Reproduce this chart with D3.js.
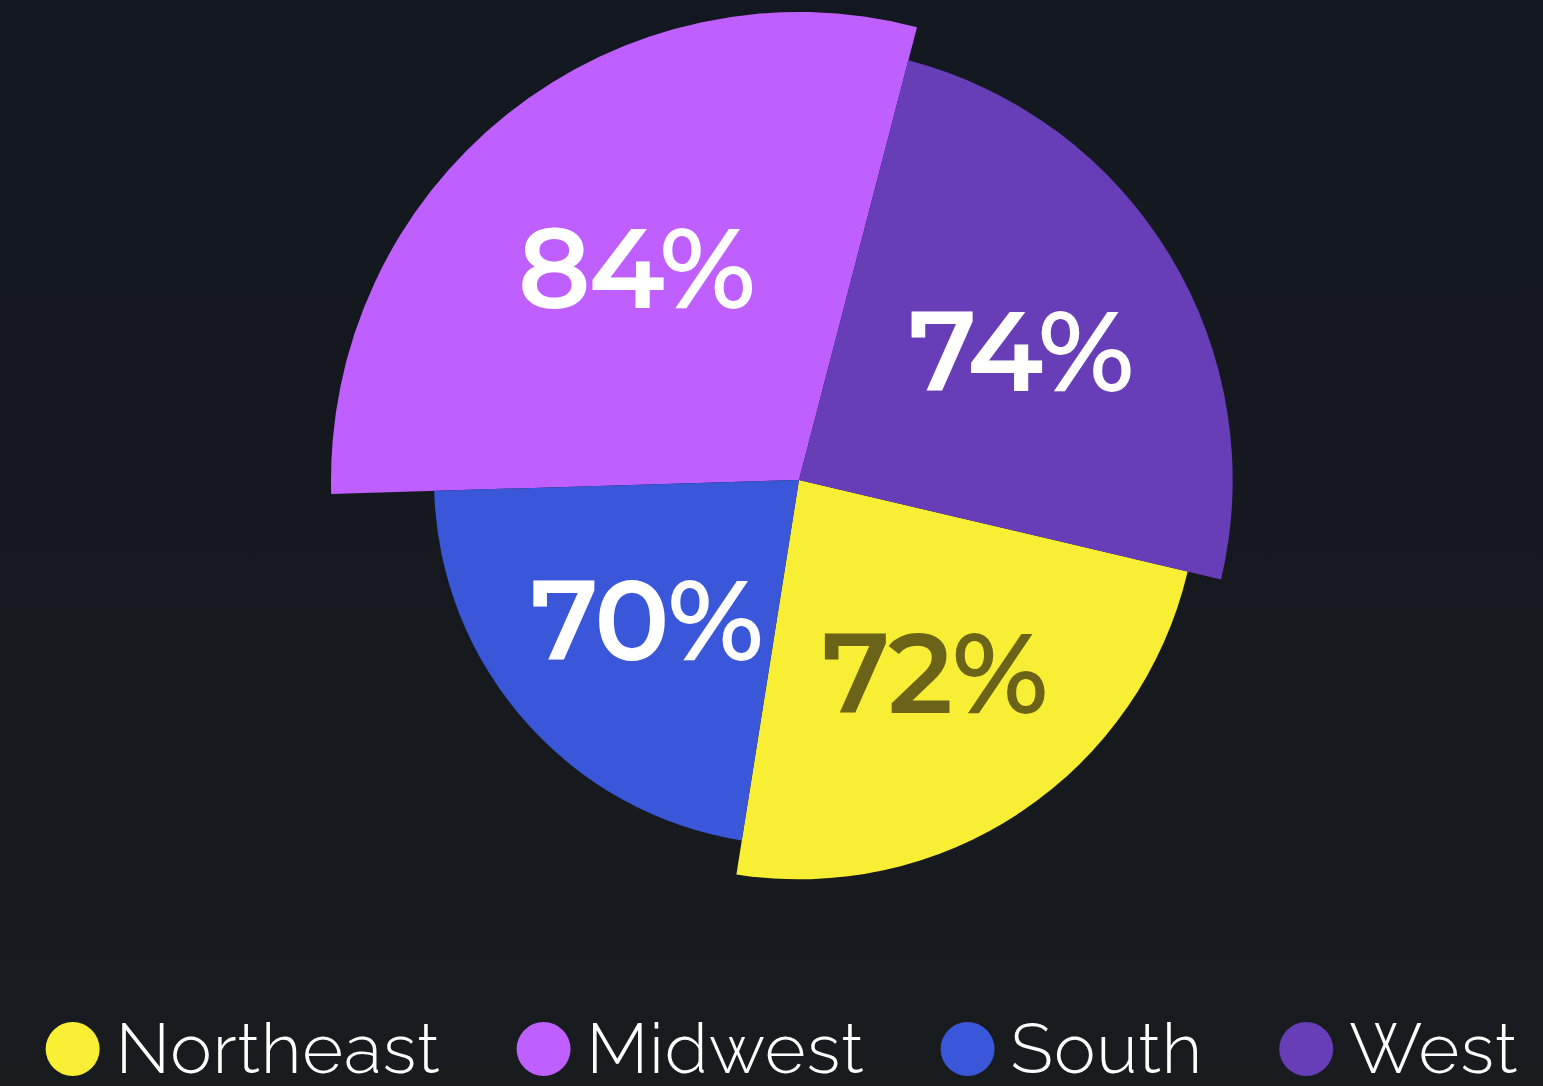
<!DOCTYPE html>
<html>
<head>
<meta charset="utf-8">
<script src="https://cdn.jsdelivr.net/npm/d3@7"></script>
<style>
  html, body { margin: 0; padding: 0; background: #151920; }
  svg { display: block; }
</style>
</head>
<body>
<div id="chart"></div>
<script>
// chart data
var regions = ["Northeast", "Midwest", "South", "West"];
var percents = [72, 84, 70, 74];
// share of the full circle each slice takes
var shares = [23.8, 29.5, 22.0, 24.6];
var colors = ["#f8ef35", "#bf5fff", "#3a57da", "#673db8"];
var labelColors = ["#6b6418", "#ffffff", "#ffffff", "#ffffff"];

var width = 1543, height = 1086;
var cx = 799, cy = 480;

var data = regions.map(function(d, i) {
  return {region: d, pct: percents[i], share: shares[i], color: colors[i], labelColor: labelColors[i]};
});

// rank by percent -> outer radius
var ranked = data.slice().sort(function(a, b) { return b.pct - a.pct; });
ranked.forEach(function(d, i) { d.rank = i; });
var radius = d3.scaleLinear().domain([0, ranked.length - 1]).range([468, 365]);

var svg = d3.select("#chart").append("svg")
  .attr("width", width)
  .attr("height", height);

var defs = svg.append("defs");
var grad = defs.append("linearGradient")
  .attr("id", "bg")
  .attr("x1", 0).attr("y1", 0).attr("x2", 0).attr("y2", 1);
grad.append("stop").attr("offset", "0%").attr("stop-color", "#13171f");
grad.append("stop").attr("offset", "100%").attr("stop-color", "#181c1f");

svg.append("rect")
  .attr("width", width)
  .attr("height", height)
  .attr("fill", "url(#bg)");

var pie = d3.pie()
  .value(function(d) { return d.share; })
  .sort(function(a, b) { return b.pct - a.pct; })
  .startAngle(-91.7 * Math.PI / 180)
  .endAngle((360 - 91.7) * Math.PI / 180);

var arcs = pie(data);

var arc = d3.arc()
  .innerRadius(0)
  .outerRadius(function(d) { return radius(d.data.rank); });

var g = svg.append("g")
  .attr("transform", "translate(" + cx + "," + cy + ")");

g.selectAll(".slice")
  .data(arcs).enter()
  .append("path")
    .attr("class", "slice")
    .attr("d", arc)
    .attr("fill", function(d) { return d.data.color; });

g.selectAll(".pct")
  .data(arcs).enter()
  .append("text")
    .attr("class", "pct")
    .attr("transform", function(d) {
      var a = (d.startAngle + d.endAngle) / 2;
      var r = radius(d.data.rank) * 0.58;
      return "translate(" + (r * Math.sin(a) + 6) + "," + (-r * Math.cos(a)) + ")";
    })
    .attr("dy", "0.36em")
    .style("text-anchor", "middle")
    .style("font-family", "Montserrat, Lato, 'Open Sans', sans-serif")
    .style("font-weight", 600)
    .style("font-size", "112px")
    .style("letter-spacing", "-2px")
    .style("fill", function(d) { return d.data.labelColor; })
    .text(function(d) { return d.data.pct + "%"; });

// legend
var legend = svg.append("g").attr("class", "legend");
var legendFont = 70, dotR = 27, dotGap = 16, itemGap = 76;

var items = legend.selectAll(".item")
  .data(data).enter()
  .append("g")
    .attr("class", "item");

items.append("circle")
  .attr("r", dotR)
  .attr("cx", dotR)
  .attr("cy", 0)
  .attr("fill", function(d) { return d.color; });

items.append("text")
  .attr("x", dotR * 2 + dotGap)
  .attr("y", 0)
  .attr("dy", "0.34em")
  .style("font-family", "Raleway, Lato, 'Noto Sans', sans-serif")
  .style("font-weight", 300)
  .style("font-size", legendFont + "px")
  .style("letter-spacing", "1px")
  .style("fill", "#ffffff")
  .text(function(d) { return d.region; });

var xPos = 0;
items.each(function() {
  var w = dotR * 2 + dotGap + d3.select(this).select("text").node().getComputedTextLength();
  d3.select(this).attr("transform", "translate(" + xPos + ",0)");
  xPos += w + itemGap;
});
var total = xPos - itemGap;
legend.attr("transform", "translate(" + (782 - total / 2) + "," + 1049 + ")");
</script>
</body>
</html>
